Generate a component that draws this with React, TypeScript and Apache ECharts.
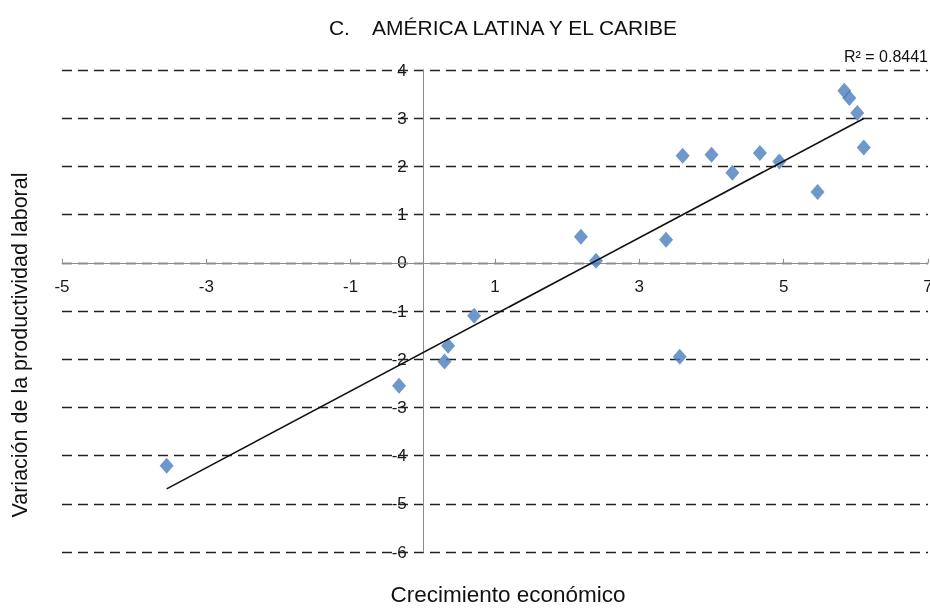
import React, { useEffect, useRef } from "react";
import * as echarts from "echarts";

const xValues = [-3.55, -0.33, 0.3, 0.35, 0.71, 2.19, 2.4, 3.37, 3.56, 3.6, 4.0, 4.29, 4.67, 4.94, 5.47, 5.84, 5.91, 6.02, 6.11];
const yValues = [-4.21, -2.55, -2.05, -1.72, -1.1, 0.54, 0.04, 0.48, -1.95, 2.22, 2.24, 1.87, 2.28, 2.1, 1.47, 3.57, 3.42, 3.11, 2.39];

const xMin = -5;
const xMax = 7;
const xStep = 2;
const yMin = -6;
const yMax = 4;
const yStep = 1;

const titleText = "C.    AMÉRICA LATINA Y EL CARIBE";
const r2Text = "R² = 0.8441";
const xTitle = "Crecimiento económico";
const yTitle = "Variación de la productividad laboral";

function regression(xs: number[], ys: number[]) {
  const n = xs.length;
  const mx = xs.reduce((a, b) => a + b, 0) / n;
  const my = ys.reduce((a, b) => a + b, 0) / n;
  let sxy = 0;
  let sxx = 0;
  for (let i = 0; i < n; i++) {
    sxy += (xs[i] - mx) * (ys[i] - my);
    sxx += (xs[i] - mx) * (xs[i] - mx);
  }
  const b = sxy / sxx;
  const a = my - b * mx;
  return { a, b };
}

const W = 930;
const H = 608;
const G = { left: 62, right: 2, top: 70, bottom: 56 };

export default function App() {
  const ref = useRef<HTMLDivElement>(null);
  useEffect(() => {
    if (!ref.current) return;
    const chart = echarts.init(ref.current, undefined, { renderer: "svg" });
    const { a, b } = regression(xValues, yValues);
    const x0 = Math.min(...xValues);
    const x1 = Math.max(...xValues);
    const font = "'Liberation Sans', Arial, sans-serif";
    const gw = W - G.left - G.right;
    const gh = H - G.top - G.bottom;
    const xAxisOffset = -(gh * (0 - yMin)) / (yMax - yMin);
    const yAxisOffset = -(gw * (0 - xMin)) / (xMax - xMin);
    chart.setOption({
      animation: false,
      textStyle: { fontFamily: font },
      grid: { ...G, outerBoundsMode: "none", containLabel: false },
      xAxis: {
        type: "value",
        position: "bottom",
        offset: xAxisOffset,
        min: xMin,
        max: xMax,
        interval: xStep,
        z: 1,
        axisLine: { show: true, onZero: false, lineStyle: { color: "#8c8c8c", width: 1 } },
        axisTick: { show: true, inside: true, length: 4, lineStyle: { color: "#8c8c8c" } },
        axisLabel: { margin: 15, fontSize: 17, color: "#1a1a1a", fontFamily: font },
        splitLine: { show: false },
      },
      yAxis: {
        type: "value",
        position: "left",
        offset: yAxisOffset,
        min: yMin,
        max: yMax,
        interval: yStep,
        axisLine: { show: true, onZero: false, lineStyle: { color: "#8c8c8c", width: 1 } },
        axisTick: { show: false },
        axisLabel: { margin: 16, fontSize: 17, color: "#1a1a1a", fontFamily: font },
        splitLine: { show: true, lineStyle: { color: "#222", type: [10, 6], width: 1.4 } },
      },
      series: [
        {
          type: "scatter",
          data: xValues.map((x, i) => [x, yValues[i]]),
          symbol: "diamond",
          symbolSize: [14, 16],
          itemStyle: { color: "#4a7ebb" },
          z: 2,
        },
        {
          type: "line",
          data: [
            [x0, a + b * x0],
            [x1, a + b * x1],
          ],
          showSymbol: false,
          symbol: "none",
          lineStyle: { color: "#111", width: 1.6 },
          z: 3,
        },
      ],
      graphic: [
        {
          type: "text",
          x: 503,
          y: 27,
          style: { text: titleText, fontSize: 21, fontFamily: font, fill: "#111", textAlign: "center", textVerticalAlign: "middle" },
        },
        {
          type: "text",
          x: 928,
          y: 56,
          style: { text: r2Text, fontSize: 16, fontFamily: font, fill: "#111", textAlign: "right", textVerticalAlign: "middle" },
        },
        {
          type: "text",
          x: 508,
          y: 594,
          style: { text: xTitle, fontSize: 22.5, fontFamily: font, fill: "#111", textAlign: "center", textVerticalAlign: "middle" },
        },
        {
          type: "text",
          x: 20,
          y: 345,
          rotation: Math.PI / 2,
          style: { text: yTitle, fontSize: 21.5, fontFamily: font, fill: "#111", textAlign: "center", textVerticalAlign: "middle" },
        },
      ],
    });
    return () => chart.dispose();
  }, []);
  return <div ref={ref} style={{ position: "fixed", left: 0, top: 0, width: W, height: H }} />;
}
